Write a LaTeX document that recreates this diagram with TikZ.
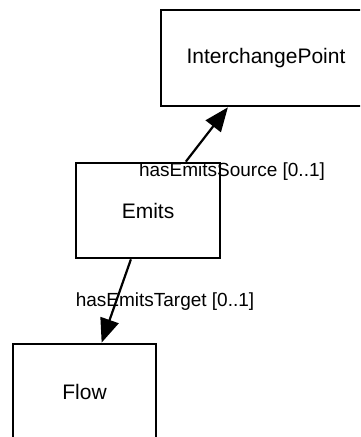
\documentclass[tikz,border=0pt]{standalone}
\usepackage{fontspec}
\setmainfont{Liberation Sans}
\usetikzlibrary{arrows.meta}

\tikzset{
  classbox/.style={draw, line width=2.7pt, rectangle, minimum width=144pt, minimum height=95pt, font=\fontsize{21}{24}\selectfont},
  relarrow/.style={line width=2.2pt, -{Triangle[length=24pt, width=19pt]}},
  rellabel/.style={font=\fontsize{19}{22}\selectfont, inner sep=0pt}
}

\begin{document}
\begin{tikzpicture}[x=1pt, y=-1pt]
						% Frame
						\useasboundingbox (0,0) rectangle (360,437);
						\clip (0,0) rectangle (360,437);
						
						% Classes
						\node[classbox, minimum width=210pt, minimum height=96pt] (point) at (266,58) {InterchangePoint};
						\node[classbox] (emits) at (148,210.5) {Emits};
						\node[classbox, minimum width=143pt] (flow) at (84.5,391.5) {Flow};
						
						% Relations
						\draw[relarrow] (emits) -- (point);
						\draw[relarrow] (emits) -- (flow);
						
						% Labels
						\node[rellabel] (sourcelabel) at (232,172) {hasEmitsSource [0..1]};
						\node[rellabel] (targetlabel) at (165,302) {hasEmitsTarget [0..1]};
					\end{tikzpicture}
\end{document}
